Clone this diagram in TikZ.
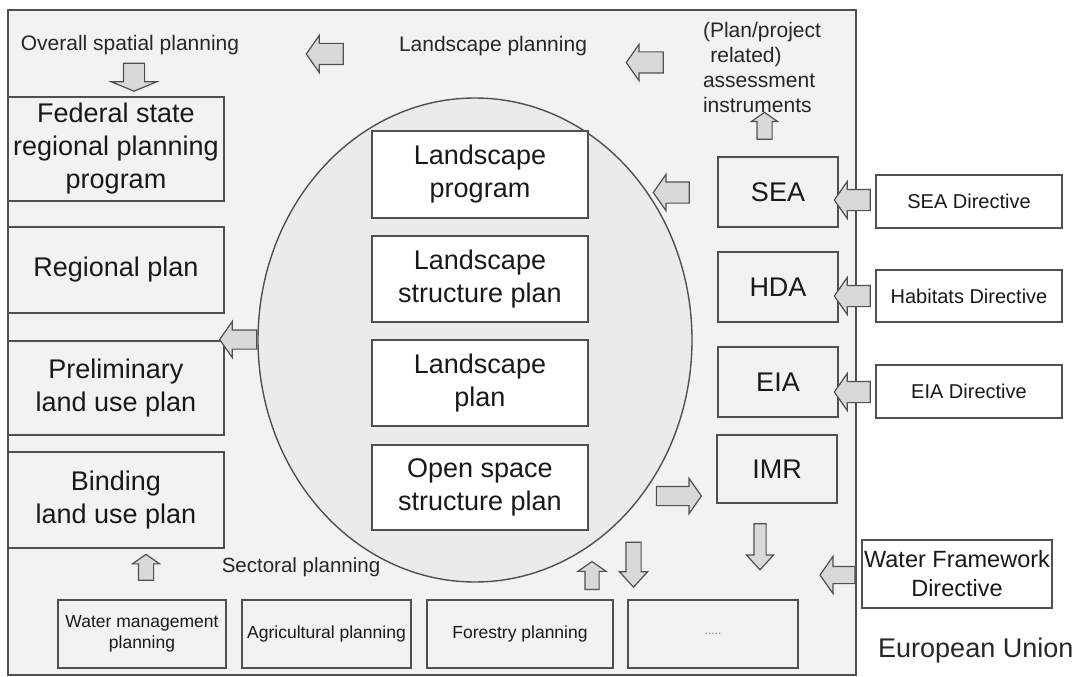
\documentclass[tikz,border=0pt]{standalone}
\usepackage{fontspec}
\setmainfont{Liberation Sans}
\usetikzlibrary{shapes.geometric,shapes.arrows}
\definecolor{framefill}{HTML}{F2F2F2}
\definecolor{corefill}{HTML}{EBEBEB}
\definecolor{arrowfill}{HTML}{D9D9D9}
\definecolor{edgegray}{HTML}{505050}
\begin{document}
\begin{tikzpicture}[x=1pt,y=-1pt,
    plan/.style={draw=edgegray, line width=1.6pt, fill=framefill, inner sep=0pt,
      align=center, text=black!90, font=\fontsize{27}{33}\selectfont},
    inner/.style={plan, fill=white},
    directive/.style={plan, fill=white, font=\fontsize{20}{24}\selectfont},
    sector/.style={plan, minimum height=68pt, font=\fontsize{17.5}{21}\selectfont},
    caption/.style={inner sep=0pt, align=center, text=black!85,
      font=\fontsize{21}{25}\selectfont},
    blockarrow/.style={single arrow, draw=edgegray, fill=arrowfill, line width=1.2pt,
      minimum width=0pt, single arrow tip angle=110}]
  \useasboundingbox (0,0) rectangle (1074,677);
  \draw[edgegray, line width=1.5pt, fill=framefill] (8,10) rectangle (856,675);
  \node (core) [ellipse, draw=edgegray, line width=1.4pt, fill=corefill, inner sep=0pt,
    minimum width=434pt, minimum height=484pt] at (475,340) {};

  \node (fed) [plan, minimum width=216pt, minimum height=104pt] at (116,149) {Federal state\\regional planning\\program};
  \node (reg) [plan, minimum width=216pt, minimum height=86pt] at (116,270) {Regional plan};
  \node (pre) [plan, minimum width=216pt, minimum height=94pt] at (116,388) {Preliminary\\land use plan};
  \node (bind) [plan, minimum width=216pt, minimum height=96pt] at (116,500) {Binding\\land use plan};

  \node (lprog) [inner, minimum width=216pt, minimum height=87pt] at (480,174.5) {Landscape\\program};
  \node (lstruct) [inner, minimum width=216pt, minimum height=86pt] at (480,279) {Landscape\\structure plan};
  \node (lplan) [inner, minimum width=216pt, minimum height=86pt] at (480,383) {Landscape\\plan};
  \node (open) [inner, minimum width=216pt, minimum height=85pt] at (480,487.5) {Open space\\structure plan};

  \node (sea) [plan, minimum width=120pt, minimum height=70pt] at (778,192) {SEA};
  \node (hda) [plan, minimum width=120pt, minimum height=70pt] at (778,287) {HDA};
  \node (eia) [plan, minimum width=120pt, minimum height=70pt] at (778,382) {EIA};
  \node (imr) [plan, minimum width=120pt, minimum height=68pt] at (777,469) {IMR};

  \node (seadir) [directive, minimum width=186pt, minimum height=53pt] at (969,201.5) {SEA Directive};
  \node (habdir) [directive, minimum width=186pt, minimum height=52pt] at (969,296) {Habitats Directive};
  \node (eiadir) [directive, minimum width=186pt, minimum height=53pt] at (969,391.5) {EIA Directive};
  \node (wfd) [directive, minimum width=190pt, minimum height=68pt,
    font=\fontsize{23.5}{29}\selectfont] at (957,574) {Water Framework\\Directive};

  \node (water) [sector, minimum width=168pt] at (142,634) {Water management\\planning};
  \node (agri) [sector, minimum width=169pt] at (326.5,634) {Agricultural planning};
  \node (forest) [sector, minimum width=186pt] at (520,634) {Forestry planning};
  \node (more) [sector, minimum width=170pt, text=gray,
    font=\fontsize{12}{12}\selectfont] at (713,634) {.....};

  \node (overall) [caption] at (130,45) {Overall spatial planning};
  \node (landsc) [caption] at (493,46) {Landscape planning};
  \node (assess) [caption, align=left] at (762,67) {(Plan/project\\\hspace*{0.35em}related)\\assessment\\instruments};
  \node (sectoral) [caption, font=\fontsize{20.5}{24}\selectfont] at (301,567) {Sectoral planning};
  \node (eu) [caption, anchor=base west, font=\fontsize{27}{32}\selectfont] at (878,657) {European Union};

  \node (a1) [blockarrow, shape border rotate=270, minimum height=28pt, inner sep=10pt,
    single arrow head extend=12pt, single arrow tip angle=135] at (134,75) {};
  \node (a2) [blockarrow, shape border rotate=180, minimum height=37pt, inner sep=10pt,
    single arrow head extend=8pt] at (328.5,54) {};
  \node (a3) [blockarrow, shape border rotate=180, minimum height=37pt, inner sep=10pt,
    single arrow head extend=7.5pt] at (648.5,62.5) {};
  \node (a4) [blockarrow, shape border rotate=90, minimum height=27pt, inner sep=7pt,
    single arrow head extend=5.5pt] at (764.5,128.5) {};
  \node (a5) [blockarrow, shape border rotate=180, minimum height=36pt, inner sep=10pt,
    single arrow head extend=7.5pt] at (675,192.5) {};
  \node (a6) [blockarrow, shape border rotate=180, minimum height=36pt, inner sep=10pt,
    single arrow head extend=8pt] at (856,200) {};
  \node (a7) [blockarrow, shape border rotate=180, minimum height=36pt, inner sep=10pt,
    single arrow head extend=8pt] at (856,296) {};
  \node (a8) [blockarrow, shape border rotate=180, minimum height=36pt, inner sep=10pt,
    single arrow head extend=8pt] at (856,392) {};
  \node (a9) [blockarrow, shape border rotate=180, minimum height=37pt, inner sep=9pt,
    single arrow head extend=8.5pt] at (241.5,339.5) {};
  \node (a10) [blockarrow, minimum height=45pt, inner sep=9pt,
    single arrow head extend=8pt] at (675.5,496) {};
  \node (a11) [blockarrow, shape border rotate=270, minimum height=46pt, inner sep=5.5pt,
    single arrow head extend=7.5pt, single arrow tip angle=85] at (760,543.5) {};
  \node (a12) [blockarrow, shape border rotate=270, minimum height=45pt, inner sep=7pt,
    single arrow head extend=6.5pt, single arrow tip angle=85] at (633.5,560.5) {};
  \node (a13) [blockarrow, shape border rotate=90, minimum height=28pt, inner sep=6.5pt,
    single arrow head extend=7pt] at (592,578) {};
  \node (a14) [blockarrow, shape border rotate=180, minimum height=35pt, inner sep=8pt,
    single arrow head extend=10pt] at (840.5,575) {};
  \node (a15) [blockarrow, shape border rotate=90, minimum height=26pt, inner sep=7pt,
    single arrow head extend=6pt] at (146,570) {};
\end{tikzpicture}
\end{document}
